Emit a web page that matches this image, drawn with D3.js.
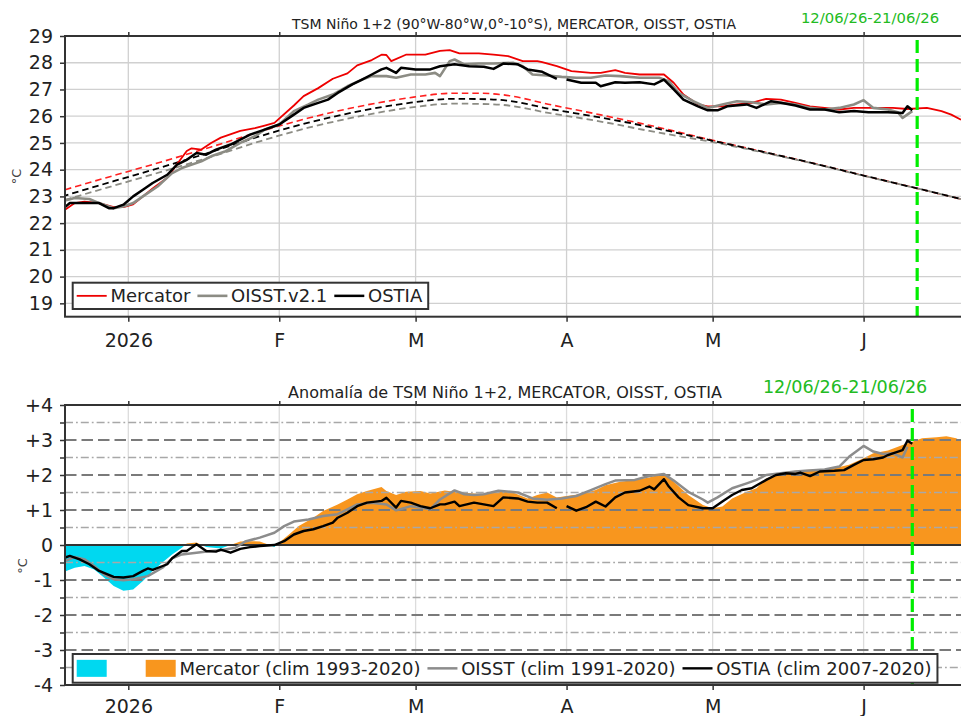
<!DOCTYPE html>
<html>
<head>
<meta charset="utf-8">
<script src="https://cdn.jsdelivr.net/npm/d3@7"></script>
<style>
  body { margin: 0; background: #fff; }
  svg { display: block; font-family: "DejaVu Sans", sans-serif; }
</style>
</head>
<body>
<svg id="chart" width="961" height="716"></svg>
<script>
// ---- Data (day offsets counted from 19 Dec 2025) ----
const monthTickLabels = ["2026", "F", "M", "A", "M", "J"];
const sstTicks = [19, 20, 21, 22, 23, 24, 25, 26, 27, 28, 29];
const anomTicks = [-4, -3, -2, -1, 0, 1, 2, 3, 4];

// Daily SST, Niño 1+2 (°C)
const mercDays = [0,2,4,7,10,12,14,16,18,21,23,25,26,28,30,32,36,39,41,43,47,49,52,55,58,60,63,65,66,67,70,74,77,79,81,85,88,91,94,97,98,101,104,108,110,113,115,118,123,125,127,130,132,135,138,141,144,147,150,153,156,159,162,166,170,173,177,180,182,184];
const mercSST = [22.5,22.75,22.8,22.75,22.6,22.6,22.7,23.0,23.3,23.7,24.2,24.7,24.8,24.75,25.0,25.2,25.45,25.55,25.65,25.75,26.4,26.75,27.05,27.4,27.6,27.9,28.1,28.3,28.29,28.06,28.3,28.3,28.44,28.47,28.35,28.35,28.3,28.25,28.06,28.06,28.02,27.87,27.69,27.62,27.62,27.72,27.62,27.56,27.56,27.25,26.81,26.44,26.37,26.37,26.44,26.5,26.65,26.62,26.5,26.37,26.31,26.25,26.31,26.31,26.31,26.27,26.31,26.19,26.06,25.87];

const oiDays = [0,2,5,7,10,12,14,16,19,22,24,28,30,33,36,39,41,44,47,50,52,55,58,61,63,66,68,71,74,76,77,79,80,82,85,88,92,94,96,99,102,105,108,111,114,118,122,124,126,129,132,135,138,141,144,147,150,153,156,159,162,164,166,169,171,172,174];
const oiSST = [22.85,22.94,22.9,22.75,22.56,22.62,22.75,23.0,23.37,23.87,24.06,24.31,24.5,24.69,25.0,25.25,25.5,25.69,26.19,26.44,26.62,26.81,27.12,27.37,27.5,27.5,27.44,27.56,27.56,27.62,27.5,28.06,28.12,27.94,27.97,27.97,28.0,27.87,27.56,27.52,27.47,27.44,27.44,27.52,27.5,27.44,27.44,27.31,26.87,26.56,26.31,26.44,26.56,26.52,26.44,26.5,26.44,26.31,26.25,26.31,26.44,26.6,26.31,26.25,26.15,25.94,26.19];

const ostDays = [0,1,4,7,9,10,12,14,16,18,21,23,25,27,29,31,34,36,38,41,44,47,49,52,54,56,59,61,63,65,66,68,69,72,75,77,80,83,86,88,90,93,95,98,101,102,103,106,109,110,113,115,118,121,123,125,127,130,132,134,136,140,142,145,147,150,153,156,159,162,165,169,172,173,174];
const ostSST = [22.6,22.75,22.75,22.75,22.56,22.56,22.69,23.0,23.25,23.5,23.81,24.19,24.37,24.62,24.56,24.75,24.94,25.12,25.31,25.5,25.69,26.06,26.31,26.5,26.62,26.87,27.19,27.37,27.56,27.75,27.81,27.62,27.81,27.75,27.75,27.87,27.94,27.87,27.85,27.77,27.97,27.94,27.75,27.66,27.4,null,27.37,27.25,27.25,27.12,27.27,27.25,27.27,27.19,27.37,27.0,26.62,26.37,26.22,26.22,26.37,26.44,26.31,26.56,26.5,26.4,26.25,26.25,26.15,26.19,26.15,26.15,26.12,26.37,26.22];

// Daily climatologies (°C)
const climDays = [0,10,20,30,40,50,60,70,80,85,90,100,110,120,133,145,155,164,175,184];
const climMerc = [23.25,23.78,24.3,24.85,25.42,25.93,26.35,26.67,26.86,26.86,26.8,26.42,26.05,25.66,25.1,24.6,24.18,23.78,23.3,22.9];
const climOst  = [23.03,23.57,24.1,24.66,25.25,25.76,26.17,26.48,26.65,26.64,26.6,26.26,25.95,25.6,25.08,24.6,24.18,23.78,23.3,22.9];
const climOi   = [22.87,23.4,23.93,24.48,25.06,25.57,25.98,26.3,26.47,26.46,26.42,26.1,25.8,25.45,25.03,24.58,24.17,23.77,23.3,22.9];

// Daily anomalies (°C)
const mercAnomDays = [0,2,4,6,8,10,12,14,16,18,20,22,24,25,27,29,32,34,36,38,40,42,43,44,46,48,51,53,56,58,60,62,65,66,68,70,73,75,78,81,84,86,89,92,95,97,99,101,103,106,109,111,114,117,120,123,125,128,131,133,135,137,140,142,144,147,150,152,155,158,161,164,166,169,172,174,176,179,181,183,184];
const mercAnom = [-0.76,-0.65,-0.6,-0.7,-0.93,-1.17,-1.31,-1.27,-1.03,-0.74,-0.5,-0.27,-0.08,0.04,0.07,-0.06,-0.1,0.0,0.1,0.11,0.1,0.0,-0.06,0.07,0.3,0.54,0.78,0.97,1.16,1.3,1.45,1.54,1.66,1.54,1.43,1.52,1.54,1.47,1.56,1.5,1.47,1.45,1.52,1.5,1.33,1.43,1.5,1.36,1.4,1.46,1.57,1.71,1.81,1.86,1.93,2.05,1.81,1.43,1.14,1.05,1.1,1.33,1.52,1.62,1.9,2.07,2.12,2.14,2.16,2.19,2.29,2.48,2.62,2.7,2.86,2.95,3.05,3.08,3.11,3.05,2.98];

const oiAnomDays = [0,2,4,6,8,10,12,14,17,20,22,24,27,30,32,35,37,40,43,45,47,50,53,56,58,60,63,66,68,71,73,75,77,80,82,84,86,89,93,96,99,102,105,108,111,113,117,120,123,125,128,131,132,134,137,140,142,144,147,150,152,156,159,161,164,166,168,170,172,173];
const oiAnom = [-0.46,-0.34,-0.41,-0.6,-0.84,-0.98,-1.01,-0.98,-0.89,-0.65,-0.38,-0.27,-0.22,-0.17,-0.15,-0.08,0.1,0.21,0.35,0.54,0.67,0.73,0.83,0.88,1.02,1.16,1.21,1.16,0.99,1.11,1.07,1.02,1.3,1.56,1.45,1.43,1.45,1.55,1.5,1.33,1.29,1.33,1.4,1.57,1.74,1.84,1.86,1.97,2.03,1.84,1.52,1.3,1.21,1.36,1.62,1.76,1.86,2.0,2.05,2.1,2.12,2.16,2.24,2.52,2.83,2.67,2.6,2.62,2.5,2.81];

const ostAnomDays = [0,1,3,5,7,10,12,14,16,17,18,21,22,24,25,27,29,31,32,34,36,38,40,43,45,47,49,51,53,55,56,58,60,62,65,66,68,69,71,73,75,77,78,80,81,84,86,88,90,93,95,97,99,101,102,103,105,107,109,111,113,115,118,120,121,123,124,126,128,131,133,135,137,139,141,144,146,148,150,151,153,155,158,160,162,164,166,168,169,170,172,173,174];
const ostAnom = [-0.36,-0.31,-0.41,-0.55,-0.74,-0.91,-0.93,-0.89,-0.74,-0.67,-0.71,-0.55,-0.38,-0.17,-0.17,0.02,-0.17,-0.19,-0.13,-0.22,-0.11,-0.06,-0.03,0.0,0.11,0.3,0.4,0.45,0.54,0.64,0.78,0.92,1.11,1.21,1.26,1.35,1.07,1.26,1.21,1.11,1.05,1.16,1.16,1.24,1.11,1.21,1.16,1.11,1.36,1.33,1.24,1.21,1.21,1.05,null,1.11,0.98,1.08,1.24,1.1,1.36,1.5,1.55,1.67,1.59,1.88,1.67,1.36,1.14,1.05,1.05,1.24,1.43,1.57,1.62,1.86,2.0,2.05,2.03,2.07,1.97,2.1,2.12,2.14,2.29,2.43,2.45,2.5,2.57,2.62,2.71,2.98,2.89];

// Forecast window marks (day offsets)
const windowLabel = "12/06/26-21/06/26";
const windowStartTop = 175;   // 12 Jun 2026
const windowStartBottom = 174;

// ---- Layout ----
const svg = d3.select("#chart");
const FONT = '"DejaVu Sans", sans-serif';
const TXT = "#222";
const left = 65, right = 961;
const topP = { y0: 36, y1: 316.7 };
const botP = { y0: 405, y1: 685 };

const start = new Date(2025, 11, 19);
const dayDate = d => d3.timeDay.offset(start, d);
const monthTicks = [0, 1, 2, 3, 4, 5].map(m => new Date(2026, m, 1));

const x = d3.scaleTime().domain([start, dayDate(184)]).range([left, right]);
const yT = d3.scaleLinear().domain([18.5, 29]).range([topP.y1, topP.y0]);
const yB = d3.scaleLinear().domain([-4, 4]).range([botP.y1, botP.y0]);

const pairs = (days, vals) => days.map((d, i) => ({ date: dayDate(d), v: vals[i] }));

const defs = svg.append("defs");
function clip(id, x0, y0, x1, y1) {
  defs.append("clipPath").attr("id", id)
    .append("rect").attr("x", x0).attr("y", y0).attr("width", x1 - x0).attr("height", y1 - y0);
}
clip("clipTop", left, topP.y0, right, topP.y1);
clip("clipBot", left, botP.y0, right, botP.y1);
clip("clipPos", left, botP.y0, right, yB(0));
clip("clipNeg", left, yB(0), right, botP.y1);

// ====================== Top panel: SST ======================
const gT = svg.append("g");

// grid
gT.append("g").selectAll("line").data(sstTicks).join("line")
  .attr("x1", left).attr("x2", right).attr("y1", d => yT(d)).attr("y2", d => yT(d))
  .attr("stroke", "#d0d0d0").attr("stroke-width", 1.3);
gT.append("g").selectAll("line").data(monthTicks).join("line")
  .attr("x1", d => x(d)).attr("x2", d => x(d)).attr("y1", topP.y0).attr("y2", topP.y1)
  .attr("stroke", "#d0d0d0").attr("stroke-width", 1.3);

const lineT = d3.line().defined(d => d.v != null).x(d => x(d.date)).y(d => yT(d.v));
const climLine = d3.line().curve(d3.curveMonotoneX).x(d => x(d.date)).y(d => yT(d.v));

const plotT = gT.append("g").attr("clip-path", "url(#clipTop)");
plotT.append("path").datum(pairs(climDays, climMerc)).attr("d", climLine)
  .attr("fill", "none").attr("stroke", "#ff2020").attr("stroke-width", 1.6).attr("stroke-dasharray", "6.5,4");
plotT.append("path").datum(pairs(climDays, climOi)).attr("d", climLine)
  .attr("fill", "none").attr("stroke", "#8c8c84").attr("stroke-width", 1.8).attr("stroke-dasharray", "6.5,4");
plotT.append("path").datum(pairs(climDays, climOst)).attr("d", climLine)
  .attr("fill", "none").attr("stroke", "#000").attr("stroke-width", 1.8).attr("stroke-dasharray", "6.5,4").attr("stroke-dashoffset", 3);

plotT.append("path").datum(pairs(mercDays, mercSST)).attr("d", lineT)
  .attr("fill", "none").attr("stroke", "#ee0000").attr("stroke-width", 1.8).attr("stroke-linejoin", "round");
plotT.append("path").datum(pairs(oiDays, oiSST)).attr("d", lineT)
  .attr("fill", "none").attr("stroke", "#8c8c84").attr("stroke-width", 2.6).attr("stroke-linejoin", "round");
plotT.append("path").datum(pairs(ostDays, ostSST)).attr("d", lineT)
  .attr("fill", "none").attr("stroke", "#000").attr("stroke-width", 2.5).attr("stroke-linejoin", "round");

// forecast window marker
gT.append("line")
  .attr("x1", x(dayDate(windowStartTop))).attr("x2", x(dayDate(windowStartTop)))
  .attr("y1", topP.y0 + 4).attr("y2", topP.y1)
  .attr("stroke", "#00ee00").attr("stroke-width", 3.2).attr("stroke-dasharray", "13,6");
gT.append("text").attr("x", x(dayDate(windowStartTop)) + 22).attr("y", 22.5)
  .attr("text-anchor", "end").attr("font-size", 14.8).attr("fill", "#22bb22").text(windowLabel);

// axes
const axLT = gT.append("g").attr("transform", `translate(${left},0)`)
  .call(d3.axisLeft(yT).tickValues(sstTicks).tickSize(5).tickPadding(7).tickFormat(d3.format("d")));
const axBT = gT.append("g").attr("transform", `translate(0,${topP.y1})`)
  .call(d3.axisBottom(x).tickValues(monthTicks).tickSize(5).tickPadding(11.5).tickFormat((d, i) => monthTickLabels[i]));
const axTT = gT.append("g").attr("transform", `translate(0,${topP.y0})`)
  .call(d3.axisTop(x).tickValues(monthTicks).tickSize(4).tickFormat(""));
[axLT, axBT, axTT].forEach(a => {
  a.select(".domain").remove();
  a.selectAll(".tick line").attr("stroke", "#333").attr("stroke-width", 1.5);
  a.selectAll("text").attr("font-size", 19).attr("fill", TXT).attr("font-family", FONT);
});
gT.append("rect").attr("x", left).attr("y", topP.y0).attr("width", right - left + 4).attr("height", topP.y1 - topP.y0)
  .attr("fill", "none").attr("stroke", "#333").attr("stroke-width", 2);

gT.append("text").attr("transform", `translate(21,${(topP.y0 + topP.y1) / 2}) rotate(-90)`)
  .attr("text-anchor", "middle").attr("font-size", 13).attr("fill", "#444").text("°C");
gT.append("text").attr("x", (left + right) / 2 + 1).attr("y", 29).attr("text-anchor", "middle")
  .attr("font-size", 14).attr("fill", TXT).text("TSM Niño 1+2 (90°W-80°W,0°-10°S), MERCATOR, OISST, OSTIA");

// legend builder: handles are 30 px wide, labels follow
function legend(g, x0, y0, h, items, fs, padR) {
  const box = g.append("rect").attr("x", x0).attr("y", y0).attr("height", h)
    .attr("fill", "#fff").attr("stroke", "#333").attr("stroke-width", 2);
  let cx = x0 + 4;
  const cy = y0 + h / 2;
  items.forEach(it => {
    if (it.type === "line") {
      g.append("line").attr("x1", cx).attr("x2", cx + 30).attr("y1", cy).attr("y2", cy)
        .attr("stroke", it.color).attr("stroke-width", it.width);
    } else {
      g.append("rect").attr("x", cx).attr("y", cy - 8.5).attr("width", 30).attr("height", 17).attr("fill", it.color);
    }
    cx += 30 + 3.7;
    if (it.label) {
      const t = g.append("text").attr("x", cx).attr("y", cy).attr("dy", "0.36em")
        .attr("font-size", fs).attr("fill", TXT).text(it.label);
      cx += t.node().getComputedTextLength();
    }
    cx += it.gap != null ? it.gap : 7;
  });
  box.attr("width", cx - 7 - x0 + padR);
}
legend(gT.append("g"), 72.7, 282.7, 26.3, [
  { type: "line", color: "#ee0000", width: 1.8, label: "Mercator" },
  { type: "line", color: "#8c8c84", width: 2.6, label: "OISST.v2.1" },
  { type: "line", color: "#000", width: 2.5, label: "OSTIA" }
], 18, 6);

// ====================== Bottom panel: anomaly ======================
const gB = svg.append("g");

gB.append("g").selectAll("line").data(monthTicks).join("line")
  .attr("x1", d => x(d)).attr("x2", d => x(d)).attr("y1", botP.y0).attr("y2", botP.y1)
  .attr("stroke", "#dcdcdc").attr("stroke-width", 1.3);

const plotB = gB.append("g").attr("clip-path", "url(#clipBot)");
const anomArea = d3.area().x(d => x(d.date)).y0(yB(0)).y1(d => yB(d.v));
const mercAnomData = pairs(mercAnomDays, mercAnom);
plotB.append("path").datum(mercAnomData).attr("d", anomArea)
  .attr("fill", "#00d8f0").attr("clip-path", "url(#clipNeg)");
plotB.append("path").datum(mercAnomData).attr("d", anomArea)
  .attr("fill", "#f8961e").attr("clip-path", "url(#clipPos)");

// reference levels
const halfLevels = d3.range(-3.5, 4, 1);
const intLevels = [-3, -2, -1, 1, 2, 3];
plotB.append("g").selectAll("line").data(halfLevels).join("line")
  .attr("x1", left).attr("x2", right).attr("y1", d => yB(d)).attr("y2", d => yB(d))
  .attr("stroke", "#a8a8a8").attr("stroke-width", 1.3).attr("stroke-dasharray", "8,3,1.8,3");
plotB.append("g").selectAll("line").data(intLevels).join("line")
  .attr("x1", left).attr("x2", right).attr("y1", d => yB(d)).attr("y2", d => yB(d))
  .attr("stroke", "#7a7a7a").attr("stroke-width", 1.8).attr("stroke-dasharray", "11.5,5");
plotB.append("line").attr("x1", left).attr("x2", right).attr("y1", yB(0)).attr("y2", yB(0))
  .attr("stroke", "#333").attr("stroke-width", 2);

const lineB = d3.line().defined(d => d.v != null).x(d => x(d.date)).y(d => yB(d.v));
plotB.append("path").datum(pairs(oiAnomDays, oiAnom)).attr("d", lineB)
  .attr("fill", "none").attr("stroke", "#8c8c8c").attr("stroke-width", 2.5).attr("stroke-linejoin", "round");
plotB.append("path").datum(pairs(ostAnomDays, ostAnom)).attr("d", lineB)
  .attr("fill", "none").attr("stroke", "#000").attr("stroke-width", 2.4).attr("stroke-linejoin", "round");

gB.append("line")
  .attr("x1", x(dayDate(windowStartBottom))).attr("x2", x(dayDate(windowStartBottom)))
  .attr("y1", botP.y0 + 4).attr("y2", botP.y1)
  .attr("stroke", "#00ee00").attr("stroke-width", 3.2).attr("stroke-dasharray", "13,6");
gB.append("text").attr("x", x(dayDate(windowStartBottom)) + 15).attr("y", 393)
  .attr("text-anchor", "end").attr("font-size", 17.6).attr("fill", "#22bb22").text(windowLabel);

const anomFmt = d => d > 0 ? "+" + d : String(d);
const axLB = gB.append("g").attr("transform", `translate(${left},0)`)
  .call(d3.axisLeft(yB).tickValues(d3.range(-4, 4.01, 0.5)).tickSize(5).tickPadding(7)
    .tickFormat(d => Number.isInteger(d) ? anomFmt(d) : ""));
const axBB = gB.append("g").attr("transform", `translate(0,${botP.y1})`)
  .call(d3.axisBottom(x).tickValues(monthTicks).tickSize(5).tickPadding(9.8).tickFormat((d, i) => monthTickLabels[i]));
const axTB = gB.append("g").attr("transform", `translate(0,${botP.y0})`)
  .call(d3.axisTop(x).tickValues(monthTicks).tickSize(4).tickFormat(""));
[axLB, axBB, axTB].forEach(a => {
  a.select(".domain").remove();
  a.selectAll(".tick line").attr("stroke", "#333").attr("stroke-width", 1.5);
  a.selectAll("text").attr("font-size", 19).attr("fill", TXT).attr("font-family", FONT);
});
gB.append("rect").attr("x", left).attr("y", botP.y0).attr("width", right - left + 4).attr("height", botP.y1 - botP.y0)
  .attr("fill", "none").attr("stroke", "#333").attr("stroke-width", 2);

gB.append("text").attr("transform", `translate(27,566) rotate(-90)`)
  .attr("text-anchor", "middle").attr("font-size", 13).attr("fill", "#444").text("°C");
gB.append("text").attr("x", (left + right) / 2 - 8).attr("y", 398).attr("text-anchor", "middle")
  .attr("font-size", 16).attr("fill", TXT).text("Anomalía de TSM Niño 1+2, MERCATOR, OISST, OSTIA");

legend(gB.append("g"), 72.7, 654, 28.7, [
  { type: "patch", color: "#00d8f0", label: "", gap: 35.3 },
  { type: "patch", color: "#f8961e", label: "Mercator (clim 1993-2020)" },
  { type: "line", color: "#8c8c8c", width: 2.5, label: "OISST (clim 1991-2020)" },
  { type: "line", color: "#000", width: 2.4, label: "OSTIA (clim 2007-2020)" }
], 18, 6);
</script>
</body>
</html>
